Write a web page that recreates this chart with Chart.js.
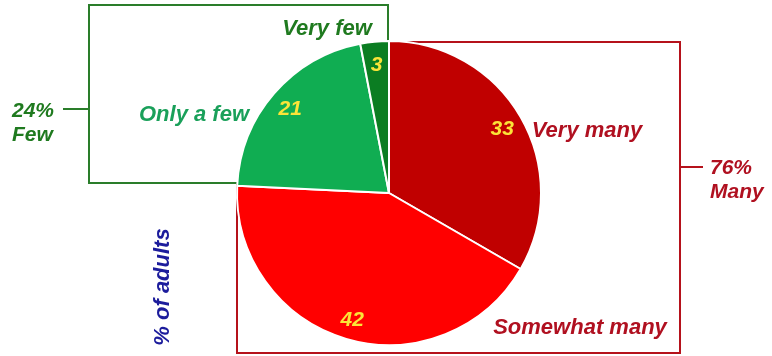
<!DOCTYPE html>
<html>
<head>
<meta charset="utf-8">
<script src="https://cdn.jsdelivr.net/npm/chart.js@4"></script>
<style>
  html, body { margin:0; padding:0; background:#fff; }
  #wrap { width:772px; height:356px; position:relative; }
</style>
</head>
<body>
<div id="wrap"><canvas id="pie"></canvas></div>
<script>
// Data
const categories = ["Very many", "Somewhat many", "Only a few", "Very few"];
const values = [33, 42, 21, 3];
const sliceColors = ["#c00000", "#ff0000", "#10ad52", "#0b7d22"];
const groupLabels = ["24%", "Few", "76%", "Many"];
const axisTitle = "% of adults";

const FAMILY = '"Liberation Sans", Arial, sans-serif';
const FONT = 'italic bold 22px ' + FAMILY;
const FONT_SMALL = 'italic bold 21px ' + FAMILY;

// boxes + brackets behind the pie
const boxPlugin = {
  id: "boxes",
  beforeDatasetsDraw(chart) {
    const c = chart.ctx;
    c.save();
    c.lineWidth = 2;

    // red box (Many)
    c.strokeStyle = "#b5121b";
    c.strokeRect(237, 42, 443, 311);
    c.beginPath();
    c.moveTo(680, 167);
    c.lineTo(703, 167);
    c.stroke();

    // green box (Few), white fill covers red box corner
    c.fillStyle = "#fff";
    c.fillRect(89, 5, 299, 178);
    c.strokeStyle = "#2a7d2a";
    c.strokeRect(89, 5, 299, 178);
    c.beginPath();
    c.moveTo(63, 109);
    c.lineTo(89, 109);
    c.stroke();

    c.restore();
  }
};

// labels
const labelPlugin = {
  id: "labels",
  afterDatasetsDraw(chart) {
    const c = chart.ctx;
    const arcs = chart.getDatasetMeta(0).data;
    c.save();
    c.textBaseline = "middle";

    // values inside slices
    c.font = FONT_SMALL;
    c.textAlign = "center";
    c.fillStyle = "#fbe438";
    arcs.forEach((a, i) => {
      const mid = (a.startAngle + a.endAngle) / 2;
      const r = a.outerRadius * 0.86;
      c.fillText(String(values[i]), a.x + Math.cos(mid) * r, a.y + Math.sin(mid) * r + 2);
    });

    // category names
    c.font = FONT;
    c.fillStyle = "#b01020";
    c.fillText(categories[0], 587, 131);
    c.fillText(categories[1], 580, 328);
    c.fillStyle = "#1aa05a";
    c.fillText(categories[2], 194, 115);
    c.fillStyle = "#1f7a1f";
    c.fillText(categories[3], 327, 29);

    // group totals
    c.font = FONT_SMALL;
    c.textAlign = "left";
    c.fillStyle = "#1f7a1f";
    c.fillText(groupLabels[0], 12, 111);
    c.fillText(groupLabels[1], 12, 135);
    c.fillStyle = "#b01020";
    c.fillText(groupLabels[2], 710, 168);
    c.fillText(groupLabels[3], 710, 192);

    // rotated title
    c.font = FONT;
    c.translate(163, 287);
    c.rotate(-Math.PI / 2);
    c.textAlign = "center";
    c.fillStyle = "#1c1c9c";
    c.fillText(axisTitle, 0, 0);

    c.restore();
  }
};

new Chart(document.getElementById("pie"), {
  type: "pie",
  data: {
    labels: categories,
    datasets: [{
      data: values,
      backgroundColor: sliceColors,
      borderColor: "#ffffff",
      borderWidth: 2
    }]
  },
  options: {
    responsive: true,
    maintainAspectRatio: false,
    animation: false,
    layout: { padding: { left: 236, right: 230, top: 40, bottom: 10 } },
    plugins: {
      legend: { display: false },
      tooltip: { enabled: false }
    }
  },
  plugins: [boxPlugin, labelPlugin]
});
</script>
</body>
</html>
